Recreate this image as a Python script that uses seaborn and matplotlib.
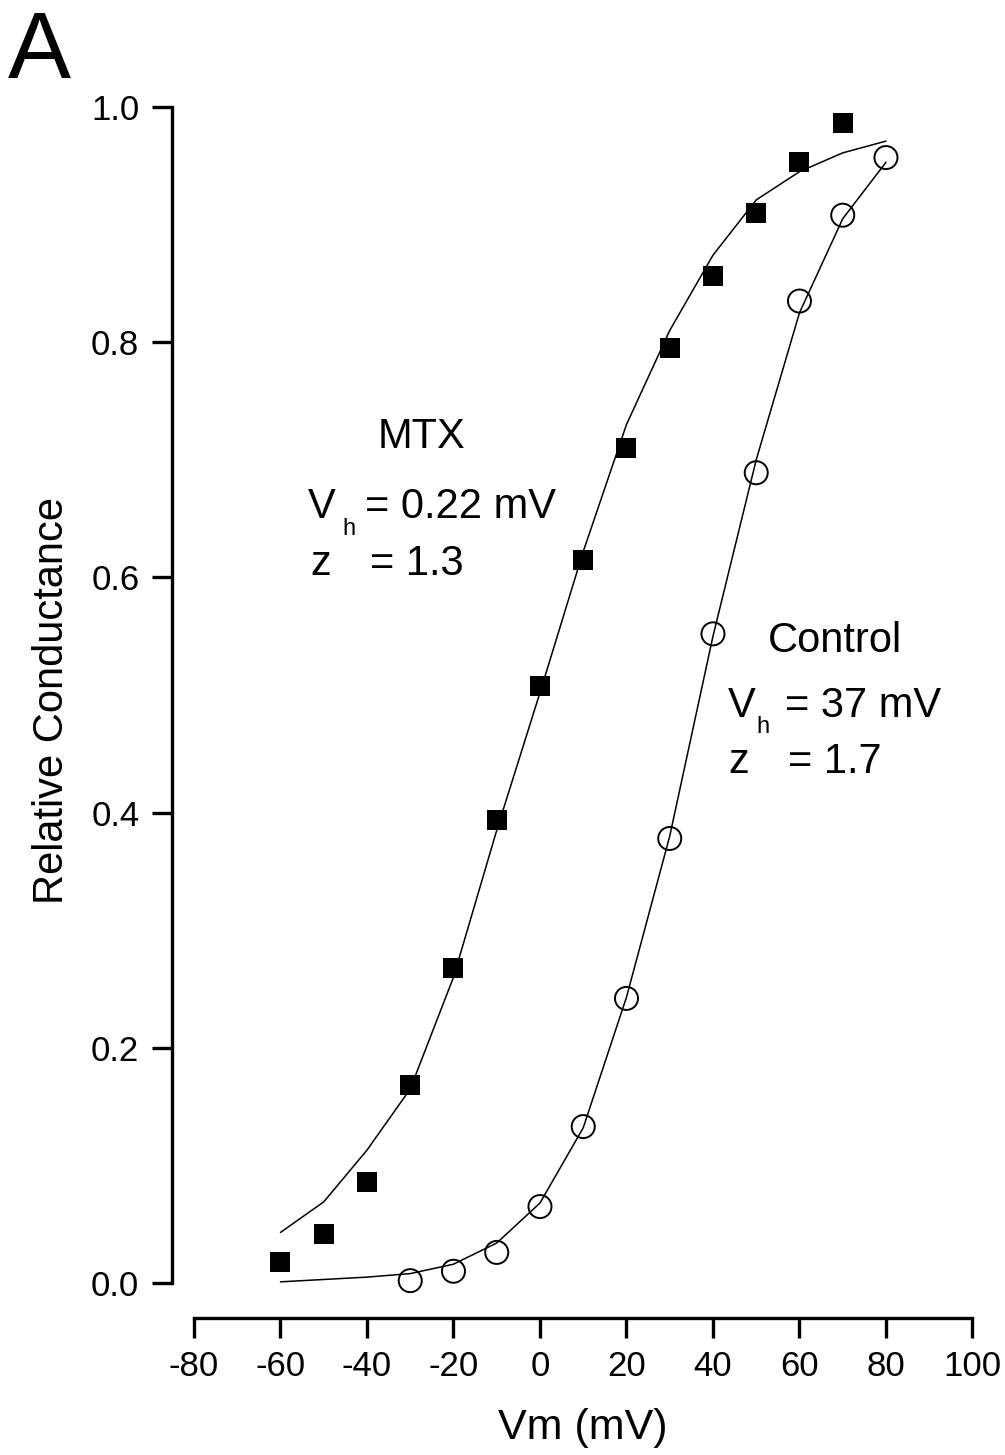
import matplotlib
matplotlib.use("Agg")
import matplotlib.pyplot as plt
import seaborn as sns
import pandas as pd

# ---- data ----
mtx_v = [-60, -50, -40, -30, -20, -10, 0, 10, 20, 30, 40, 50, 60, 70]
mtx_g = [0.018, 0.042, 0.086, 0.168, 0.268, 0.394, 0.508, 0.615, 0.710, 0.795, 0.856, 0.910, 0.953, 0.986]

ctrl_v = [-30, -20, -10, 0, 10, 20, 30, 40, 50, 60, 70, 80]
ctrl_g = [0.002, 0.010, 0.026, 0.065, 0.133, 0.242, 0.378, 0.552, 0.689, 0.835, 0.908, 0.957]

fit_v = [-60, -50, -40, -30, -20, -10, 0, 10, 20, 30, 40, 50, 60, 70, 80]
mtx_fit = [0.043, 0.069, 0.113, 0.165, 0.260, 0.385, 0.502, 0.622, 0.730, 0.810, 0.874, 0.921, 0.945, 0.961, 0.971]
ctrl_fit = [0.001, 0.003, 0.005, 0.008, 0.016, 0.034, 0.068, 0.132, 0.243, 0.380, 0.550, 0.700, 0.825, 0.905, 0.953]

x_ticks = [-80, -60, -40, -20, 0, 20, 40, 60, 80, 100]
y_ticks = [0.0, 0.2, 0.4, 0.6, 0.8, 1.0]

mtx_df = pd.DataFrame({"Vm": mtx_v, "G": mtx_g})
ctrl_df = pd.DataFrame({"Vm": ctrl_v, "G": ctrl_g})
fit_df = pd.DataFrame({"Vm": fit_v, "MTX": mtx_fit, "Control": ctrl_fit})

# ---- style ----
sns.set_theme(style="ticks")
plt.rcParams["font.family"] = ["Liberation Sans", "DejaVu Sans"]
plt.rcParams["text.color"] = "black"
plt.rcParams["axes.labelcolor"] = "black"
plt.rcParams["xtick.color"] = "black"
plt.rcParams["ytick.color"] = "black"

fig = plt.figure(figsize=(10.05, 14.55), dpi=100)
ax = fig.add_axes([0.19303, 0.11821, 0.7746, 0.80825])

sns.lineplot(data=fit_df, x="Vm", y="MTX", color="black", linewidth=1.1, ax=ax)
sns.lineplot(data=fit_df, x="Vm", y="Control", color="black", linewidth=1.1, ax=ax)

sns.scatterplot(data=mtx_df, x="Vm", y="G", marker="s", s=228, color="black",
                edgecolor="black", linewidth=0, clip_on=False, zorder=3, ax=ax)
sns.scatterplot(data=ctrl_df, x="Vm", y="G", marker="o", s=275,
                facecolor="none", edgecolor="black", linewidth=1.4,
                clip_on=False, zorder=3, ax=ax)

ax.set_xlim(-80, 100)
ax.set_ylim(0, 1)
ax.set_xticks(x_ticks, labels=[str(t) for t in x_ticks])
ax.set_yticks(y_ticks, labels=[f"{t:.1f}" for t in y_ticks])

sns.despine(ax=ax, offset={"left": 16, "bottom": 25})
for side in ["left", "bottom"]:
    ax.spines[side].set_color("black")
    ax.spines[side].set_linewidth(2.4)

ax.tick_params(axis="both", direction="out", length=14.4, width=2.4,
               colors="black", labelsize=25, pad=9, left=True, bottom=True)

ax.set_xlabel("Vm (mV)", fontsize=31, color="black")
ax.set_ylabel("Relative Conductance", fontsize=30, color="black")
ax.xaxis.set_label_coords(0.5, -0.106)
ax.yaxis.set_label_coords(-0.157, 0.495)

# ---- annotations ----
fs = 30
sub = 17
kw = dict(color="black", va="baseline")
ax.text(-27.5, 0.710, "MTX", fontsize=fs, ha="center", **kw)
ax.text(-53.6, 0.6505, "V", fontsize=fs, ha="left", **kw)
ax.text(-45.8, 0.636, "h", fontsize=sub, ha="left", **kw)
ax.text(-40.5, 0.6505, "= 0.22 mV", fontsize=fs, ha="left", **kw)
ax.text(-53.2, 0.602, "z", fontsize=fs, ha="left", **kw)
ax.text(-39.3, 0.602, "= 1.3", fontsize=fs, ha="left", **kw)

ax.text(52.7, 0.5366, "Control", fontsize=fs, ha="left", **kw)
ax.text(43.5, 0.4813, "V", fontsize=fs, ha="left", **kw)
ax.text(50.0, 0.4677, "h", fontsize=sub, ha="left", **kw)
ax.text(56.6, 0.4813, "= 37 mV", fontsize=fs, ha="left", **kw)
ax.text(43.5, 0.4337, "z", fontsize=fs, ha="left", **kw)
ax.text(57.3, 0.4337, "= 1.7", fontsize=fs, ha="left", **kw)

fig.text(0.008, 1 - 78 / 1455, "A", fontsize=68, ha="left", va="baseline", color="black")

fig.savefig("out.png", dpi=100, facecolor="white")
